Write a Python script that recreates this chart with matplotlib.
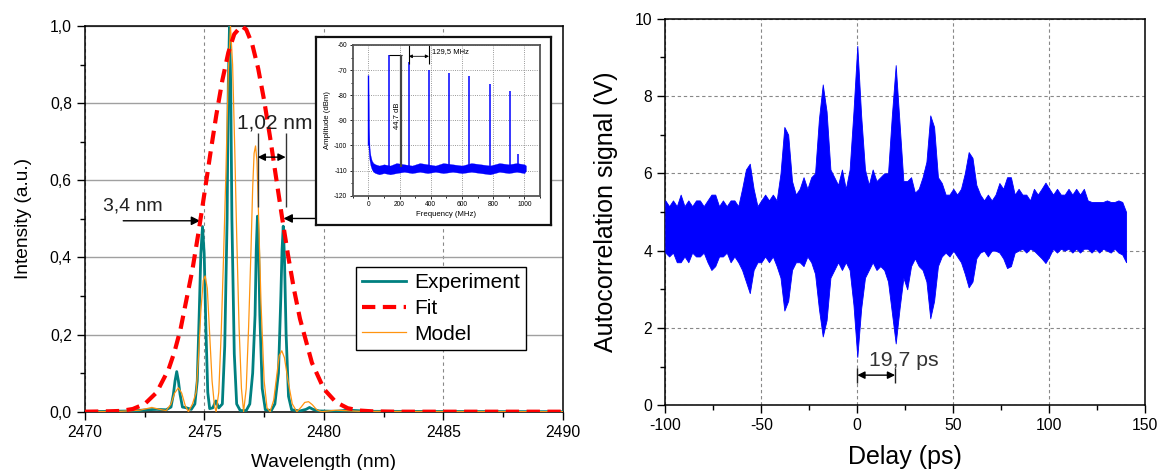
import numpy as np
import matplotlib
matplotlib.use('Agg')
import matplotlib.pyplot as plt
from matplotlib.ticker import MultipleLocator, FuncFormatter

plt.rcParams['font.family'] = ['Liberation Sans', 'DejaVu Sans']
plt.rcParams['axes.unicode_minus'] = False

# ---------------------------------------------------------------------------
# Left panel: optical spectrum (wavelength nm, normalised intensity)
# ---------------------------------------------------------------------------
wl_exp = [2470.0, 2471.0, 2472.0, 2472.6, 2473.0, 2473.4, 2473.6, 2473.7, 2473.77,
          2473.84, 2473.91, 2473.98, 2474.08, 2474.25, 2474.45, 2474.6, 2474.7,
          2474.78, 2474.85, 2474.92, 2474.99, 2475.06, 2475.14, 2475.22, 2475.35,
          2475.48, 2475.6, 2475.75, 2475.85, 2475.95, 2476.0, 2476.05, 2476.1,
          2476.15, 2476.25, 2476.35, 2476.5, 2476.75, 2476.9, 2477.02, 2477.12,
          2477.17, 2477.22, 2477.27, 2477.32, 2477.42, 2477.55, 2477.8, 2477.95,
          2478.1, 2478.2, 2478.25, 2478.3, 2478.35, 2478.42, 2478.52, 2478.65,
          2479.0, 2479.25, 2479.4, 2479.55, 2479.8, 2480.5, 2481.0, 2482.0, 2490.0]
int_exp = [0.0, 0.001, 0.002, 0.005, 0.006, 0.005, 0.012, 0.045, 0.08,
           0.104, 0.08, 0.045, 0.012, 0.01, 0.006, 0.02, 0.08,
           0.25, 0.41, 0.48, 0.41, 0.22, 0.05, 0.008, 0.01,
           0.028, 0.01, 0.02, 0.17, 0.5, 0.85, 1.0, 0.85,
           0.5, 0.15, 0.02, 0.003, 0.003, 0.02, 0.1, 0.25,
           0.42, 0.507, 0.42, 0.25, 0.06, 0.005, 0.003, 0.02,
           0.1, 0.3, 0.42, 0.481, 0.4, 0.2, 0.04, 0.005,
           0.002, 0.006, 0.011, 0.006, 0.002, 0.001, 0.004, 0.001, 0.0]

wl_model = [2470.0, 2471.5, 2472.3, 2472.8, 2473.2, 2473.4, 2473.6, 2473.75, 2473.91,
            2474.05, 2474.2, 2474.33, 2474.5, 2474.65, 2474.75, 2474.85, 2474.95,
            2475.03, 2475.12, 2475.22, 2475.32, 2475.42, 2475.49, 2475.6, 2475.7,
            2475.8, 2475.9, 2476.0, 2476.09, 2476.18, 2476.27, 2476.35, 2476.45,
            2476.55, 2476.64, 2476.75, 2476.85, 2476.95, 2477.02, 2477.08, 2477.14,
            2477.2, 2477.27, 2477.37, 2477.5, 2477.62, 2477.75, 2477.9, 2478.02,
            2478.13, 2478.24, 2478.35, 2478.5, 2478.68, 2478.87, 2479.05, 2479.2,
            2479.36, 2479.52, 2479.7, 2479.9, 2480.5, 2481.5, 2490.0]
int_model = [0.0, 0.001, 0.004, 0.011, 0.005, 0.003, 0.02, 0.048, 0.062,
             0.048, 0.015, 0.0, 0.02, 0.05, 0.14, 0.26, 0.34,
             0.352, 0.32, 0.2, 0.08, 0.015, 0.0, 0.05, 0.2,
             0.4, 0.62, 0.88, 1.0, 0.9, 0.68, 0.46, 0.22,
             0.06, 0.0, 0.06, 0.22, 0.42, 0.58, 0.67, 0.689,
             0.65, 0.5, 0.28, 0.08, 0.01, 0.0, 0.03, 0.09,
             0.145, 0.158, 0.14, 0.08, 0.02, 0.0, 0.012, 0.024,
             0.026, 0.018, 0.005, 0.0, 0.004, 0.001, 0.0]

wl_fit = [2470.0, 2471.0, 2471.5, 2472.0, 2472.5, 2473.0, 2473.5, 2473.75, 2474.0,
          2474.5, 2474.75, 2475.0, 2475.25, 2475.5, 2475.75, 2476.0, 2476.25,
          2476.55, 2476.75, 2477.0, 2477.25, 2477.5, 2477.75, 2478.0, 2478.25,
          2478.5, 2478.75, 2479.0, 2479.5, 2480.0, 2480.5, 2481.0, 2481.5,
          2482.0, 2483.0, 2490.0]
int_fit = [0.0, 0.001, 0.002, 0.007, 0.02, 0.05, 0.11, 0.156, 0.214,
           0.369, 0.464, 0.566, 0.67, 0.77, 0.859, 0.931, 0.979,
           1.0, 0.991, 0.953, 0.89, 0.807, 0.711, 0.607, 0.504,
           0.406, 0.317, 0.241, 0.127, 0.059, 0.025, 0.009, 0.003,
           0.001, 0.0, 0.0]

# ---------------------------------------------------------------------------
# Inset: RF spectrum (MHz, dBm)
# ---------------------------------------------------------------------------
rf_freq = [0, 4, 8, 14, 22, 32, 45, 70, 100, 140, 180, 230, 280, 330, 380,
           430, 480, 540, 600, 660, 720, 780, 840, 900, 950, 1000, 1010]
rf_high = [-72, -93, -101, -104, -106, -107, -107.5, -108, -107.5, -108, -107,
           -107.5, -108, -107, -107.5, -108, -107, -107.5, -108, -107, -107.5,
           -108, -107, -107.5, -107, -107.5, -108]
rf_low = [-100, -104, -106, -108, -109.5, -110.5, -111, -111.5, -111, -111.5,
          -111, -110.5, -111, -110.5, -111, -110.5, -111, -110.5, -111, -110.5,
          -111, -111.5, -110.5, -111, -110.5, -111, -110]
peak_freq = [129.5, 259, 388.5, 518, 647.5, 777, 906.5, 960]
peak_amp = [-64.0, -66.6, -70.0, -71.3, -72.4, -75.7, -78.3, -103.2]

# ---------------------------------------------------------------------------
# Right panel: autocorrelation envelope (ps, V), sampled every 2 ps
# ---------------------------------------------------------------------------
delay = np.arange(-100, 141, 2)
ac_upper = [5.3, 5.15, 5.3, 5.15, 5.45, 5.15, 5.3, 5.15, 5.3, 5.3,
            5.15, 5.3, 5.45, 5.45, 5.15, 5.3, 5.15, 5.3, 5.3, 5.15,
            5.6, 6.1, 6.25, 5.6, 5.15, 5.3, 5.45, 5.3, 5.45, 5.3,
            6.0, 7.2, 7.0, 5.8, 5.45, 5.6, 5.9, 5.6, 5.9, 6.0,
            7.4, 8.3, 7.6, 6.1, 5.9, 5.7, 6.1, 5.6, 6.1, 7.6,
            9.3, 7.5, 6.1, 5.7, 6.1, 5.8, 5.9, 6.0, 6.0, 7.5,
            8.8, 7.3, 5.8, 5.8, 5.9, 5.5, 5.6, 5.9, 6.3, 7.5,
            7.2, 5.9, 5.75, 5.45, 5.45, 5.6, 5.45, 5.6, 6.0, 6.55,
            6.4, 5.7, 5.45, 5.3, 5.45, 5.3, 5.45, 5.75, 5.6, 5.9,
            5.9, 5.45, 5.6, 5.45, 5.45, 5.3, 5.6, 5.45, 5.6, 5.76,
            5.6, 5.45, 5.6, 5.45, 5.45, 5.6, 5.45, 5.6, 5.45, 5.6,
            5.3, 5.26, 5.26, 5.26, 5.26, 5.3, 5.26, 5.26, 5.3, 5.26,
            5.0]
ac_lower = [3.95, 3.85, 3.95, 3.7, 3.7, 3.85, 3.7, 3.95, 3.85, 3.85,
            3.95, 3.7, 3.5, 3.6, 3.85, 3.85, 3.95, 3.7, 3.85, 3.7,
            3.5, 3.2, 2.9, 3.5, 3.7, 3.7, 3.85, 3.7, 3.85, 3.6,
            3.3, 2.45, 2.7, 3.5, 3.7, 3.7, 3.6, 3.85, 3.7, 3.4,
            2.5, 1.78, 2.2, 3.3, 3.5, 3.7, 3.5, 3.7, 3.5, 2.6,
            1.25, 2.5, 3.3, 3.5, 3.7, 3.5, 3.6, 3.5, 3.2, 2.4,
            1.6, 2.5, 3.3, 3.0, 3.6, 3.8, 3.6, 3.5, 3.2, 2.25,
            2.7, 3.6, 3.85, 3.95, 3.85, 4.0, 3.85, 3.7, 3.4, 3.05,
            3.2, 3.8, 3.95, 4.0, 3.85, 4.0, 4.0, 3.95, 3.8, 3.55,
            3.6, 3.95, 4.0, 4.05, 3.95, 4.05, 4.0, 3.9, 3.8, 3.68,
            3.85, 4.05, 3.95, 4.05, 4.0, 4.05, 3.95, 4.05, 3.95, 4.05,
            4.05, 3.95, 4.05, 3.95, 4.05, 4.0, 3.95, 4.05, 3.95, 3.9,
            3.7]


def comma_fmt(decimals):
    return FuncFormatter(lambda v, p: f'{v:.{decimals}f}'.replace('.', ','))


fig = plt.figure(figsize=(11.62, 4.70), dpi=100)

# ---------------------------------------------------------------------------
# Left panel
# ---------------------------------------------------------------------------
ax1 = fig.add_axes([0.07315, 0.12404, 0.41110, 0.82064])
ax1.plot(wl_exp, int_exp, color='#008080', lw=2.0, label='Experiment', zorder=3)
ax1.plot(wl_fit, int_fit, color='#FF0000', lw=3, dashes=(3.2, 1.8), label='Fit', zorder=4)
ax1.plot(wl_model, int_model, color='#FF9410', lw=0.9, label='Model', zorder=3)

ax1.set_xlim(2470, 2490)
ax1.set_ylim(0, 1.0)
ax1.xaxis.set_major_locator(MultipleLocator(5))
ax1.xaxis.set_minor_locator(MultipleLocator(2.5))
ax1.yaxis.set_major_locator(MultipleLocator(0.2))
ax1.yaxis.set_minor_locator(MultipleLocator(0.1))
ax1.yaxis.set_major_formatter(comma_fmt(1))
ax1.tick_params(which='both', direction='out', labelsize=11.3, width=1)
ax1.tick_params(which='major', length=6)
ax1.tick_params(which='minor', length=3.5)
ax1.set_axisbelow(True)
ax1.grid(axis='y', which='major', ls='-', color='#a0a0a0', lw=1)
ax1.grid(axis='x', which='major', ls=(0, (3, 3)), color='#888888', lw=0.8)
for s in ax1.spines.values():
    s.set_linewidth(1.1)
ax1.set_xlabel('Wavelength (nm)', fontsize=13.8, labelpad=10)
ax1.set_ylabel('Intensity (a.u.)', fontsize=13.8, labelpad=13)

# FWHM / mode spacing annotations
arrow_kw = dict(arrowstyle='-|>', color='black', lw=1, mutation_scale=13,
                shrinkA=0, shrinkB=0)
ax1.annotate('', xy=(2474.82, 0.495), xytext=(2471.6, 0.495), arrowprops=arrow_kw)
ax1.annotate('', xy=(2478.31, 0.501), xytext=(2479.65, 0.501), arrowprops=arrow_kw)
ax1.text(2470.75, 0.533, '3,4 nm', fontsize=14, va='center', color='#222222')
ax1.vlines([2477.23, 2478.40], 0.53, 0.722, color='#333333', lw=1, zorder=5)
ax1.annotate('', xy=(2477.23, 0.66), xytext=(2478.40, 0.66),
             arrowprops=dict(arrowstyle='<|-|>', color='black', lw=1,
                             mutation_scale=11, shrinkA=0, shrinkB=0), zorder=5)
ax1.text(2476.38, 0.748, '1,02 nm', fontsize=15, va='center', color='#222222', zorder=5)

leg = ax1.legend(loc='upper left', bbox_to_anchor=(0.5667, 0.376), fontsize=15,
                 frameon=True, fancybox=False, edgecolor='black', framealpha=1,
                 handlelength=2.1, handletextpad=0.4, labelspacing=0.33,
                 borderpad=0.3, borderaxespad=0)
leg.get_frame().set_linewidth(1)

# ---------------------------------------------------------------------------
# Inset (RF spectrum) with its own frame
# ---------------------------------------------------------------------------
frame = fig.add_axes([0.27194, 0.52128, 0.20198, 0.39936], zorder=5)
frame.set_xticks([])
frame.set_yticks([])
frame.set_facecolor('white')
for s in frame.spines.values():
    s.set_linewidth(1.6)
    s.set_color('#111111')

ins = fig.add_axes([0.30353, 0.58362, 0.16119, 0.32064], zorder=6)
ins.fill_between(rf_freq, rf_low, rf_high, color='#0000FF', lw=0.2)
ins.vlines([rf_freq[0]], rf_low[0], rf_high[0], color='#0000FF', lw=1)
ins.vlines(peak_freq, -108, peak_amp, color='#0000FF', lw=1.1)
ins.set_xlim(-100, 1100)
ins.set_ylim(-120, -60)
ins.xaxis.set_major_locator(MultipleLocator(200))
ins.xaxis.set_minor_locator(MultipleLocator(100))
ins.yaxis.set_major_locator(MultipleLocator(10))
ins.yaxis.set_minor_locator(MultipleLocator(5))
ins.tick_params(which='both', direction='out', labelsize=4.8, width=0.6, pad=1.5)
ins.tick_params(which='major', length=2.5)
ins.tick_params(which='minor', length=1.5)
ins.grid(which='major', ls=':', color='#777777', lw=0.6)
ins.set_axisbelow(True)
for s in ins.spines.values():
    s.set_linewidth(1.3)
    s.set_color('#555555')
ins.set_xlabel('Frequency (MHz)', fontsize=5.6, labelpad=2)
ins.set_ylabel('Amplitude (dBm)', fontsize=5.6, labelpad=2)

# 44,7 dB marker
ins.hlines(-64.0, 129.5, 214, color='black', lw=0.8)
ins.vlines(212, -108.7, -64.0, color='#444444', lw=1.6)
ins.text(183, -88, '44,7 dB', rotation=90, fontsize=5.5, ha='center', va='center')
# 129,5 MHz marker
ins.vlines([259, 388.5], -67.5, -60, color='black', lw=0.8)
ins.annotate('', xy=(259, -64.5), xytext=(388.5, -64.5),
             arrowprops=dict(arrowstyle='<|-|>', color='black', lw=0.6,
                             mutation_scale=5, shrinkA=0, shrinkB=0))
ins.text(405, -62.6, '129,5 MHz', fontsize=5.5, va='center')

# ---------------------------------------------------------------------------
# Right panel: autocorrelation
# ---------------------------------------------------------------------------
ax2 = fig.add_axes([0.57255, 0.13766, 0.41308, 0.82255])
ax2.fill_between(delay, ac_lower, ac_upper, color='#0000FF', lw=0.6, zorder=3)
ax2.set_xlim(-100, 150)
ax2.set_ylim(0, 10)
ax2.xaxis.set_major_locator(MultipleLocator(50))
ax2.xaxis.set_minor_locator(MultipleLocator(25))
ax2.yaxis.set_major_locator(MultipleLocator(2))
ax2.yaxis.set_minor_locator(MultipleLocator(1))
ax2.tick_params(which='both', direction='out', labelsize=11.3, width=1)
ax2.tick_params(which='major', length=6)
ax2.tick_params(which='minor', length=3.5)
ax2.set_axisbelow(True)
ax2.grid(which='major', ls=(0, (3, 2.5)), color='#888888', lw=0.8)
for s in ax2.spines.values():
    s.set_linewidth(1.1)
ax2.set_xlabel('Delay (ps)', fontsize=18, labelpad=8)
ax2.set_ylabel('Autocorrelation signal (V)', fontsize=18, labelpad=12)

ax2.vlines([0, 19.7], 0.58, 0.97, color='#222222', lw=1, zorder=4)
ax2.annotate('', xy=(0, 0.78), xytext=(19.7, 0.78),
             arrowprops=dict(arrowstyle='<|-|>', color='black', lw=1,
                             mutation_scale=11, shrinkA=0, shrinkB=0), zorder=4)
ax2.text(5.9, 1.17, '19,7 ps', fontsize=15.3, va='center', color='#333333', zorder=4)

fig.savefig('out.png', dpi=100)
